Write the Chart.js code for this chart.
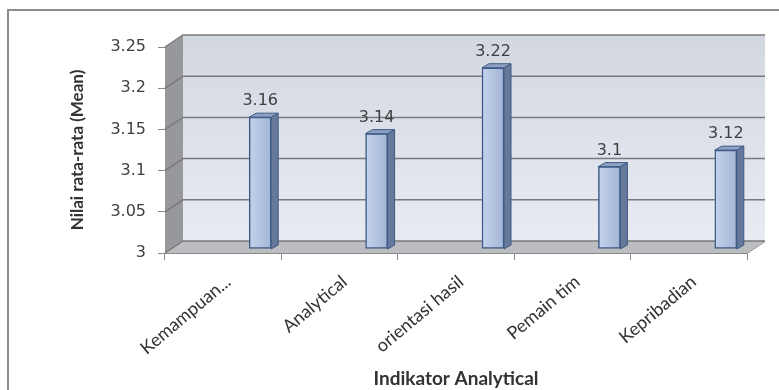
<!DOCTYPE html>
<html>
<head>
<meta charset="utf-8">
<script src="https://cdn.jsdelivr.net/npm/chart.js@4.4.1/dist/chart.umd.min.js"></script>
<style>
html,body{margin:0;padding:0;background:#ffffff;}
#wrap{position:relative;width:779px;height:390px;}
canvas{display:block;}
</style>
</head>
<body>
<div id="wrap"><canvas id="c" width="779" height="390"></canvas></div>
<script>
const categories = ['Kemampuan...', 'Analytical', 'orientasi hasil', 'Pemain tim', 'Kepribadian'];
const meanValues = [3.16, 3.14, 3.22, 3.10, 3.12];
const valueLabels = ['3.16', '3.14', '3.22', '3.1', '3.12'];
const yTickLabels = ['3', '3.05', '3.1', '3.15', '3.2', '3.25'];
const yTitle = 'Nilai rata-rata (Mean)';
const xTitle = 'Indikator Analytical';

const DEPTH_X = 18, DEPTH_Y = -12;
const BAR_SHIFT_X = 37, BAR_SHIFT_Y = -4;
const BAR_DX = 7, BAR_DY = -4;

const frame = {
  id: 'frame',
  beforeDraw(chart) {
    const ctx = chart.ctx;
    ctx.save();
    ctx.fillStyle = '#ffffff';
    ctx.fillRect(0, 0, chart.width, chart.height);
    ctx.strokeStyle = '#8c8c8c';
    ctx.lineWidth = 2;
    ctx.strokeRect(8, 10, chart.width + 20, chart.height + 20);
    ctx.restore();
  },
  beforeDatasetsDraw(chart) {
    const ctx = chart.ctx;
    const a = chart.chartArea;
    const ys = chart.scales.y;
    const L = a.left, R = a.right, T = a.top, B = a.bottom;
    ctx.save();
    const g = ctx.createLinearGradient(0, T + DEPTH_Y, 0, B + DEPTH_Y);
    g.addColorStop(0, '#d3d7e0');
    g.addColorStop(1, '#e8ebf2');
    ctx.fillStyle = g;
    ctx.fillRect(L + DEPTH_X, T + DEPTH_Y, R - L, B - T);
    ctx.fillStyle = '#96989b';
    ctx.beginPath();
    ctx.moveTo(L, T); ctx.lineTo(L + DEPTH_X, T + DEPTH_Y);
    ctx.lineTo(L + DEPTH_X, B + DEPTH_Y); ctx.lineTo(L, B);
    ctx.closePath(); ctx.fill();
    ctx.fillStyle = '#bcbdc0';
    ctx.beginPath();
    ctx.moveTo(L, B); ctx.lineTo(L + DEPTH_X, B + DEPTH_Y);
    ctx.lineTo(R + DEPTH_X, B + DEPTH_Y); ctx.lineTo(R, B);
    ctx.closePath(); ctx.fill();
    ctx.strokeStyle = '#7a7a7c';
    ctx.lineWidth = 1.5;
    ys.ticks.forEach(t => {
      const y = ys.getPixelForValue(t.value);
      ctx.beginPath();
      ctx.moveTo(L, y);
      ctx.lineTo(L + DEPTH_X, y + DEPTH_Y);
      ctx.lineTo(R + DEPTH_X, y + DEPTH_Y);
      ctx.stroke();
    });
    ctx.strokeStyle = '#8a8a8a';
    ctx.lineWidth = 1;
    ctx.beginPath();
    ctx.moveTo(L, B + 0.5); ctx.lineTo(R, B + 0.5);
    ctx.lineTo(R + DEPTH_X, B + DEPTH_Y + 0.5);
    ctx.stroke();
    ctx.restore();
    ctx.save();
    ctx.translate(BAR_SHIFT_X, BAR_SHIFT_Y);
  },
  afterDatasetsDraw(chart) {
    const ctx = chart.ctx;
    const ys = chart.scales.y;
    const meta = chart.getDatasetMeta(0);
    const b = ys.getPixelForValue(ys.min);
    meta.data.forEach((bar, i) => {
      const p = bar.getProps(['x', 'y', 'width'], true);
      const l = p.x - p.width / 2, r = p.x + p.width / 2, t = p.y;
      ctx.fillStyle = '#66799b';
      ctx.strokeStyle = '#3d5a86';
      ctx.lineWidth = 1;
      ctx.beginPath();
      ctx.moveTo(r, t); ctx.lineTo(r + BAR_DX, t + BAR_DY);
      ctx.lineTo(r + BAR_DX, b + BAR_DY); ctx.lineTo(r, b);
      ctx.closePath(); ctx.fill(); ctx.stroke();
      ctx.fillStyle = '#8ea1c4';
      ctx.beginPath();
      ctx.moveTo(l, t); ctx.lineTo(l + BAR_DX, t + BAR_DY);
      ctx.lineTo(r + BAR_DX, t + BAR_DY); ctx.lineTo(r, t);
      ctx.closePath(); ctx.fill(); ctx.stroke();
      ctx.fillStyle = '#404040';
      ctx.font = '16px "DejaVu Sans", sans-serif';
      ctx.textAlign = 'center';
      ctx.textBaseline = 'alphabetic';
      ctx.fillText(valueLabels[i], p.x, t - 12);
    });
    ctx.restore();
  }
};

const ctx = document.getElementById('c').getContext('2d');
const barFill = (context) => {
  const c = context.chart;
  const xs = c.scales && c.scales.x;
  if (!xs || !c.chartArea) return '#b4c4e0';
  const x = xs.getPixelForValue(context.dataIndex);
  if (!isFinite(x)) return '#b4c4e0';
  const g = c.ctx.createLinearGradient(x - 11, 0, x + 11, 0);
  g.addColorStop(0, '#c4d3ec');
  g.addColorStop(1, '#a3b5d5');
  return g;
};

new Chart(ctx, {
  type: 'bar',
  data: {
    labels: categories,
    datasets: [{
      data: meanValues,
      base: 3,
      backgroundColor: barFill,
      borderColor: '#3d5a86',
      borderWidth: 1.5,
      borderSkipped: false,
      barThickness: 22
    }]
  },
  plugins: [frame],
  options: {
    responsive: false,
    devicePixelRatio: 1,
    animation: false,
    layout: { padding: { left: 0, right: 32, top: 47, bottom: 0 } },
    plugins: { legend: { display: false }, tooltip: { enabled: false } },
    scales: {
      y: {
        min: 3, max: 3.25,
        afterFit(s) { s.width = 165; },
        border: { display: true, color: '#9a9a9a', width: 1 },
        grid: { drawOnChartArea: false, drawTicks: true, tickLength: 7, color: '#8a8a8a' },
        ticks: {
          stepSize: 0.05,
          padding: 12,
          color: '#404040',
          font: { family: '"DejaVu Sans", sans-serif', size: 16 },
          callback: (v, i) => yTickLabels[i]
        },
        title: {
          display: true, text: yTitle, color: '#333333',
          font: { family: 'Lato, sans-serif', size: 17, weight: 'bold' },
          padding: { top: 67, bottom: 0 }
        }
      },
      x: {
        offset: true,
        afterFit(s) { s.height = 137; },
        border: { display: false },
        grid: { offset: true, drawOnChartArea: false, drawTicks: true, tickLength: 7, color: '#8a8a8a' },
        ticks: {
          minRotation: 40, maxRotation: 40,
          autoSkip: false,
          labelOffset: 5,
          padding: 11,
          color: '#333333',
          font: { family: 'Lato, sans-serif', size: 18 }
        },
        title: {
          display: true, text: xTitle, color: '#333333',
          font: { family: 'Lato, sans-serif', size: 19, weight: 'bold' },
          padding: { top: 0, bottom: 0 }
        }
      }
    }
  }
});
</script>
</body>
</html>
